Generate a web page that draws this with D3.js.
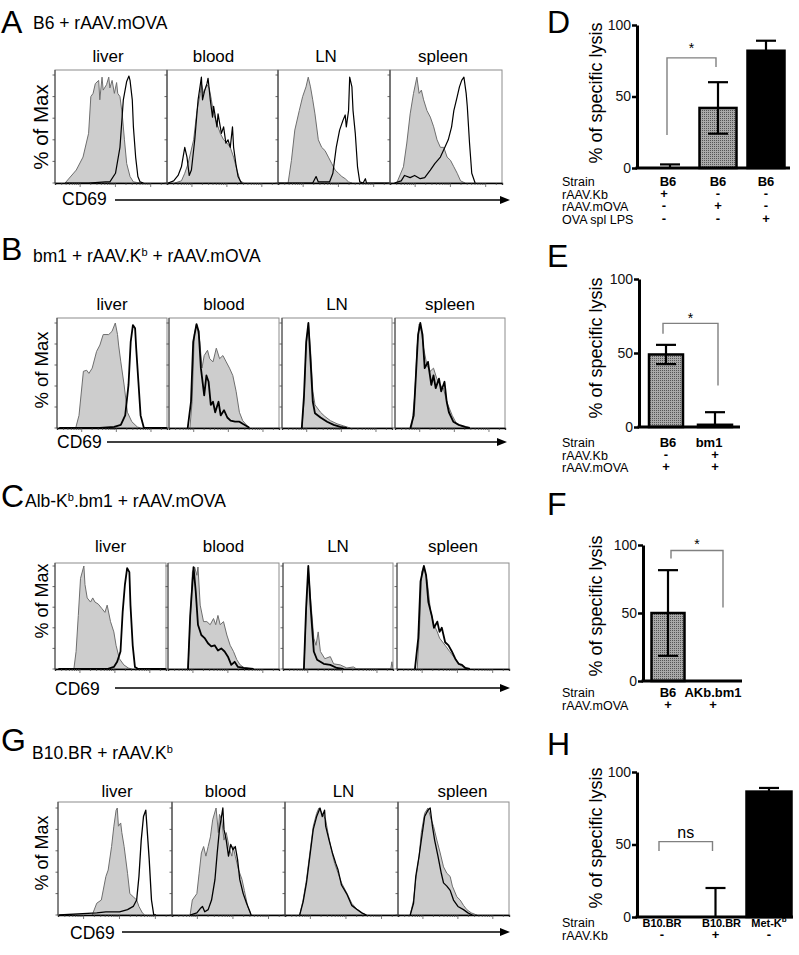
<!DOCTYPE html>
<html><head><meta charset="utf-8">
<script src="https://cdn.jsdelivr.net/npm/d3@7"></script>
<style>
body{margin:0;background:#fff;}
svg{display:block;font-family:"Liberation Sans",Arial,Helvetica,sans-serif;}
</style></head><body>
<svg id="fig" width="799" height="955"></svg>
<script>
// ---------------- DATA ----------------
const tissues = ["liver","blood","LN","spleen"];
// histogram series: [CD69 channel (0-100 across plot), % of Max]
const aGray = [
 [[9,0],[19,12],[25,24],[30,46],[32,80],[34,83],[36,92],[39,95],[40,77],[42,98],[43,86],[46,91],[48,98],[49,88],[51,95],[53,83],[55,93],[56,83],[58,80],[60,64],[62,40],[64,18],[67,6],[70,1],[76,0]],
 [[7,0],[13,2],[16,9],[19,18],[24,40],[27,67],[30,83],[31,92],[33,83],[36,91],[38,88],[40,77],[42,64],[45,55],[48,46],[51,40],[54,37],[57,33],[60,24],[63,12],[66,2],[69,0]],
 [[9,0],[12,21],[15,49],[19,67],[22,80],[25,89],[27,98],[29,89],[31,77],[33,64],[36,40],[39,33],[42,30],[45,24],[48,18],[51,12],[54,9],[57,6],[60,4],[63,1],[66,0]],
 [[6,0],[12,15],[15,37],[18,64],[21,83],[24,98],[26,83],[28,86],[30,77],[33,67],[36,61],[39,52],[42,40],[45,33],[48,33],[51,24],[54,21],[57,15],[60,9],[63,2],[67,0]]
];
const aBlack = [
 [[9,0],[30,0],[45,1],[49,1],[54,9],[58,33],[61,77],[64,94],[66,99],[67,95],[69,77],[70,52],[72,24],[74,6],[76,1],[79,0]],
 [[1,0],[6,2],[10,7],[13,15],[16,33],[18,24],[20,7],[22,12],[25,40],[28,77],[31,98],[32,77],[34,86],[36,92],[37,97],[39,77],[41,61],[42,71],[45,52],[46,64],[48,52],[49,46],[51,52],[53,37],[55,40],[57,33],[59,52],[60,33],[62,18],[64,6],[67,0]],
 [[0,0],[31,0],[34,6],[36,1],[46,1],[49,9],[52,33],[55,49],[58,58],[60,63],[61,52],[63,67],[64,98],[66,89],[67,67],[69,46],[71,15],[73,1],[76,0],[78,4],[79,0],[100,0]],
 [[4,0],[10,2],[13,7],[18,5],[22,7],[27,4],[31,5],[36,12],[40,18],[45,24],[49,33],[52,40],[55,52],[57,67],[60,80],[62,89],[64,95],[66,98],[68,83],[69,71],[71,37],[73,9],[76,0]]
];
const bGray = [
 [[17,0],[20,12],[24,54],[27,55],[29,52],[32,57],[36,73],[39,79],[42,89],[47,89],[50,92],[53,100],[55,89],[56,79],[58,63],[61,41],[64,15],[68,6],[73,1],[76,0]],
 [[19,0],[21,25],[23,89],[25,99],[28,82],[30,57],[32,69],[35,74],[37,66],[40,63],[43,76],[46,66],[49,69],[52,63],[55,57],[58,50],[61,35],[64,15],[67,7],[72,1],[73,0]],
 [[18,0],[20,25],[22,79],[24,100],[26,73],[28,35],[30,22],[35,15],[39,11],[44,7],[50,4],[56,2],[62,0]],
 [[15,0],[18,31],[20,76],[22,99],[24,92],[26,76],[29,60],[32,54],[35,57],[38,47],[41,41],[44,38],[47,25],[52,12],[56,4],[62,1],[65,0]]
];
const bBlack = [
 [[2,0],[39,0],[52,1],[58,3],[62,12],[65,41],[67,82],[69,98],[71,95],[72,76],[74,44],[76,12],[79,0],[100,0]],
 [[17,0],[20,25],[22,82],[25,99],[27,92],[29,57],[32,31],[34,50],[36,44],[38,22],[40,25],[42,15],[45,25],[47,12],[50,17],[53,10],[56,7],[60,6],[64,6],[67,4],[72,1],[73,0]],
 [[18,0],[20,31],[22,82],[24,100],[26,63],[28,25],[30,14],[35,10],[41,6],[47,3],[53,1],[59,0]],
 [[14,0],[17,12],[19,50],[21,89],[23,100],[25,89],[27,57],[30,63],[33,41],[35,50],[37,38],[40,47],[42,35],[45,44],[47,25],[49,15],[53,6],[58,3],[64,1],[68,0]]
];
const cGray = [
 [[17,0],[19,17],[21,52],[23,88],[26,100],[27,82],[29,69],[32,65],[34,69],[36,65],[39,63],[42,59],[45,55],[47,62],[50,46],[53,36],[55,23],[58,10],[62,4],[66,1],[69,0]],
 [[18,0],[20,46],[22,94],[24,99],[26,91],[27,99],[29,62],[32,46],[35,46],[38,43],[41,49],[43,43],[45,52],[47,43],[50,46],[53,33],[56,23],[59,17],[62,9],[65,4],[69,1],[77,0]],
 [[19,0],[21,52],[23,98],[25,69],[28,30],[30,23],[32,36],[34,17],[38,10],[43,12],[46,5],[52,4],[58,1],[64,2],[67,0],[98,0],[99,7],[100,0]],
 [[18,0],[20,36],[22,94],[24,100],[27,85],[30,56],[33,43],[36,36],[38,30],[43,23],[47,17],[52,10],[56,4],[61,1],[64,0]]
];
const cBlack = [
 [[3,0],[47,0],[53,2],[56,7],[59,17],[61,56],[63,82],[65,98],[67,94],[68,62],[70,23],[72,2],[75,0],[100,0]],
 [[18,0],[20,52],[23,99],[25,75],[27,43],[30,33],[33,30],[36,25],[39,22],[42,23],[45,18],[48,20],[51,17],[54,12],[57,4],[60,7],[63,2],[68,1],[77,0]],
 [[19,0],[21,59],[23,100],[25,62],[28,17],[31,9],[37,5],[43,4],[49,1],[55,0]],
 [[16,0],[19,30],[21,85],[24,100],[26,91],[28,65],[31,52],[33,40],[36,46],[38,36],[40,40],[43,26],[46,23],[49,17],[52,10],[55,5],[58,4],[61,1],[65,0]]
];
const gGray = [
 [[30,0],[34,11],[38,14],[42,36],[44,42],[47,64],[49,83],[51,98],[52,100],[53,83],[55,86],[56,77],[58,64],[61,39],[63,20],[66,17],[69,14],[71,8],[74,2],[76,0]],
 [[16,0],[18,14],[22,20],[24,39],[26,58],[28,64],[30,55],[32,64],[34,73],[36,89],[39,100],[41,77],[42,94],[44,89],[46,70],[48,77],[51,61],[53,55],[54,64],[56,55],[59,42],[62,33],[64,23],[67,8],[70,0]],
 [[13,0],[16,14],[19,33],[22,58],[25,83],[28,95],[30,100],[33,95],[36,89],[38,77],[41,61],[44,48],[47,39],[50,30],[55,20],[59,11],[64,5],[68,2],[72,0]],
 [[11,0],[14,14],[16,33],[19,55],[21,77],[24,95],[27,100],[30,89],[32,83],[35,70],[38,58],[41,45],[44,39],[47,36],[49,27],[53,17],[56,14],[59,9],[62,5],[66,2],[71,0]]
];
const gBlack = [
 [[1,0],[34,2],[42,3],[54,3],[61,5],[66,8],[69,14],[71,36],[73,70],[75,92],[77,98],[78,83],[80,52],[82,14],[84,0],[86,0]],
 [[16,0],[22,2],[25,6],[27,8],[29,3],[32,5],[35,14],[38,33],[40,58],[42,80],[45,100],[46,80],[48,70],[50,55],[52,66],[54,61],[56,64],[58,52],[60,33],[63,20],[66,11],[69,3],[70,0]],
 [[13,0],[16,12],[19,30],[22,55],[25,80],[28,92],[31,100],[33,92],[35,98],[36,83],[39,70],[42,58],[45,48],[47,42],[50,28],[55,19],[59,9],[64,5],[68,2],[72,0]],
 [[11,0],[14,11],[16,36],[19,55],[21,70],[24,92],[27,98],[29,100],[31,83],[33,70],[36,55],[39,39],[41,30],[44,27],[47,23],[50,14],[54,8],[59,5],[63,2],[67,0]]
];
// bar charts: % of specific lysis (mean, error)
const dStrain = ["B6","B6","B6"], dMean = [0,42,82], dErr = [2.5,18,7];
const dRows = [["rAAV.Kb",["+","-","-"]],["rAAV.mOVA",["-","+","-"]],["OVA spl LPS",["-","-","+"]]];
const eStrain = ["B6","bm1"], eMean = [49,1.5], eErr = [6.5,8.5];
const eRows = [["rAAV.Kb",["-","+"]],["rAAV.mOVA",["+","+"]]];
const fStrain = ["B6","AKb.bm1"], fMean = [50,0], fErr = [31.5,0];
const fRows = [["rAAV.mOVA",["+","+"]]];
const hStrain = ["B10.BR","B10.BR","Met-K|b"], hMean = [0,0,86.5], hErr = [0,20,2.5];
const hRows = [["rAAV.Kb",["-","+","-"]]];
const yTicks = [0,50,100];

// ---------------- DRAW ----------------
const svg = d3.select("#fig");
const defs = svg.append("defs");
const pat = defs.append("pattern").attr("id","stip").attr("width",2).attr("height",2).attr("patternUnits","userSpaceOnUse");
pat.append("rect").attr("width",2).attr("height",2).attr("fill","#a9a9a9");
pat.append("rect").attr("width",1).attr("height",1).attr("fill","#555");

const rows = [
 {letter:"A", letterY:33, sub:[["B6 + rAAV.mOVA",false]], subX:33, subY:29, top:70, bottom:183, peak:75,
  boxes:[[55,167],[167,278],[278,390],[390,502]], tY:62, tOff:[-3,-9,-8,-3], maxY:127, maxSize:20.5, cdX:62, cdY:205, arY:200, ar0:115, ar1:510, lw:1.2, gray:aGray, black:aBlack},
 {letter:"B", letterY:260, sub:[["bm1 + rAAV.K",false],["b",true],[" + rAAV.mOVA",false]], subX:33, subY:262, top:318, bottom:428, peak:323,
  boxes:[[57,167],[169,279],[282,392],[395,505]], tY:310, tOff:[0,0,0,0], maxY:370, maxSize:18.5, cdX:57, cdY:448, arY:442, ar0:107, ar1:507, lw:1.8, gray:bGray, black:bBlack},
 {letter:"C", letterY:507, sub:[["Alb-K",false],["b",true],[".bm1 + rAAV.mOVA",false]], subX:25, subY:507, top:563, bottom:669, peak:566,
  boxes:[[55,166],[168,279],[283,393],[397,509]], tY:552, tOff:[0,0,0,0], maxY:601, maxSize:18, cdX:55, cdY:695, arY:688, ar0:115, ar1:510, lw:1.8, gray:cGray, black:cBlack},
 {letter:"G", letterY:751, sub:[["B10.BR + rAAV.K",false],["b",true]], subX:32, subY:759, top:802, bottom:915, peak:808,
  boxes:[[58,172],[172,285],[285,398],[398,509]], tY:797, tOff:[2,-3,2,9], maxY:853, maxSize:18, cdX:70, cdY:939, arY:932, ar0:122, ar1:510, lw:1.3, gray:gGray, black:gBlack}
];

rows.forEach(r=>{
  const g = svg.append("g");
  g.append("text").attr("x",1).attr("y",r.letterY).attr("font-size",32).text(r.letter);
  const st = g.append("text").attr("x",r.subX).attr("y",r.subY).attr("font-size",17.5);
  let prevSup=false;
  r.sub.forEach(p=>{
    const t = st.append("tspan").text(p[0]);
    if(p[1]){ t.attr("font-size",11).attr("dy",-6); prevSup=true; }
    else { if(prevSup) t.attr("dy",6); prevSup=false; }
  });
  g.append("text").attr("transform",`translate(48,${r.maxY}) rotate(-90)`).attr("text-anchor","middle")
    .attr("font-size",r.maxSize).text("% of Max");
  r.boxes.forEach((b,i)=>{
    const x = d3.scaleLinear().domain([0,100]).range([b[0],b[1]]);
    const y = d3.scaleLinear().domain([0,100]).range([r.bottom,r.peak]);
    g.append("text").attr("x",(b[0]+b[1])/2+r.tOff[i]).attr("y",r.tY).attr("text-anchor","middle").attr("font-size",17).text(tissues[i]);
    g.append("rect").attr("x",b[0]).attr("y",r.top).attr("width",b[1]-b[0]).attr("height",r.bottom-r.top)
      .attr("fill","none").attr("stroke","#8c8c8c").attr("stroke-width",1);
    const cp = "clip"+r.letter+i;
    defs.append("clipPath").attr("id",cp).append("rect").attr("x",b[0]).attr("y",r.top).attr("width",b[1]-b[0]).attr("height",r.bottom-r.top);
    const pg = g.append("g").attr("clip-path",`url(#${cp})`);
    pg.append("path").datum(r.gray[i])
      .attr("d",d3.area().x(d=>x(d[0])).y0(y(0)).y1(d=>y(d[1])))
      .attr("fill","#cdcdcd").attr("stroke","#6e6e6e").attr("stroke-width",1).attr("stroke-linejoin","round");
    pg.append("path").datum(r.black[i])
      .attr("d",d3.line().x(d=>x(d[0])).y(d=>y(d[1])))
      .attr("fill","none").attr("stroke","#000").attr("stroke-width",r.lw).attr("stroke-linejoin","round");
    g.append("line").attr("x1",b[0]).attr("x2",b[0]).attr("y1",r.top).attr("y2",r.bottom).attr("stroke","#444").attr("stroke-width",1);
    d3.range(0,101,20).forEach(v=>{
      g.append("line").attr("x1",b[0]-2.5).attr("x2",b[0]).attr("y1",y(v)).attr("y2",y(v)).attr("stroke","#444").attr("stroke-width",0.8);
    });
    const lx = d3.scaleLog().domain([20,30000]).range([b[0],b[1]]);
    const bx = g.append("g").attr("transform",`translate(0,${r.bottom})`);
    bx.call(d3.axisBottom(lx).tickValues(lx.ticks()).tickSize(2).tickFormat(""));
    bx.select(".domain").attr("stroke","#000").attr("stroke-width",1.3);
    bx.selectAll(".tick line").attr("stroke","#444").attr("stroke-width",0.7)
      .attr("y2",d=>Math.abs(Math.log10(d)-Math.round(Math.log10(d)))<1e-6?4:2);
  });
  g.append("text").attr("x",r.cdX).attr("y",r.cdY).attr("font-size",17.5).text("CD69");
  g.append("line").attr("x1",r.ar0).attr("x2",r.ar1-8).attr("y1",r.arY).attr("y2",r.arY).attr("stroke","#000").attr("stroke-width",1.4);
  g.append("path").attr("d",`M${r.ar1},${r.arY} L${r.ar1-10},${r.arY-4} L${r.ar1-10},${r.arY+4} Z`).attr("fill","#000");
});

// ---------------- BAR CHARTS ----------------
const bars = [
 {letter:"D", letterY:33, y0:168, y100:25, ax0:637, ax1:790, xr:[670,766], bw:37, strain:dStrain, mean:dMean, err:dErr,
  fills:["stip","stip","#000"], rows:dRows, rowY:[186,198.5,211,223.5], labY:93, br:[0,1,23,70.6,77], brOff:[-3,-2], mark:"*", markV:86,
  sSize:13, lOff:[-2,0,0], sgOff:[-6,0,0]},
 {letter:"E", letterY:267, y0:427, y100:279, ax0:639, ax1:740, xr:[666,715], bw:34, strain:eStrain, mean:eMean, err:eErr,
  fills:["stip","#000"], rows:eRows, rowY:[447,459.5,472], labY:348, br:[0,1,63,28,70], brOff:[-3,3], mark:"*", markV:75.5,
  sSize:13, lOff:[2,-6], sgOff:[0,0]},
 {letter:"F", letterY:515, y0:681, y100:545, ax0:643, ax1:742, xr:[668,713], bw:33, strain:fStrain, mean:fMean, err:fErr,
  fills:["stip","stip"], rows:fRows, rowY:[697,709.5], labY:606, br:[0,1,90,54,96], brOff:[3,10], mark:"*", markV:103,
  sSize:13, lOff:[0,0], sgOff:[0,0]},
 {letter:"H", letterY:755, y0:917, y100:772, ax0:637, ax1:793, xr:[662,769], bw:45, strain:hStrain, mean:hMean, err:hErr,
  fills:["#000","#000","#000"], rows:hRows, rowY:[927,940], labY:838, br:[0,1,45.5,45.5,52], brOff:[-3,-3], mark:"ns", markV:54.5,
  sSize:11, lOff:[0,6,0], sgOff:[0,0,0]}
];

bars.forEach(c=>{
  const g = svg.append("g");
  g.append("text").attr("x",547).attr("y",c.letterY).attr("font-size",32).text(c.letter);
  const y = d3.scaleLinear().domain([0,100]).range([c.y0,c.y100]);
  const x = d3.scalePoint().domain(d3.range(c.mean.length)).range(c.xr);
  c.mean.forEach((m,i)=>{
    if(m>0) g.append("rect").attr("x",x(i)-c.bw/2).attr("y",y(m)).attr("width",c.bw).attr("height",y(0)-y(m))
      .attr("fill",c.fills[i]==="stip"?"url(#stip)":c.fills[i]).attr("stroke","#000").attr("stroke-width",2.5);
  });
  c.mean.forEach((m,i)=>{
    const e = c.err[i]; if(!e) return;
    const hi = m+e, lo = Math.max(0,m-e);
    const cw = 10;
    g.append("line").attr("x1",x(i)).attr("x2",x(i)).attr("y1",y(lo)).attr("y2",y(hi)).attr("stroke","#000").attr("stroke-width",2.2);
    g.append("line").attr("x1",x(i)-cw).attr("x2",x(i)+cw).attr("y1",y(hi)).attr("y2",y(hi)).attr("stroke","#000").attr("stroke-width",2.2);
    if(m-e>0) g.append("line").attr("x1",x(i)-cw).attr("x2",x(i)+cw).attr("y1",y(lo)).attr("y2",y(lo)).attr("stroke","#000").attr("stroke-width",2.2);
  });
  const ay = g.append("g").attr("transform",`translate(${c.ax0},0)`)
    .call(d3.axisLeft(y).tickValues(yTicks).tickSize(5).tickSizeOuter(0).tickPadding(1));
  ay.select(".domain").attr("stroke-width",3);
  ay.selectAll(".tick line").attr("stroke-width",2.5);
  ay.selectAll(".tick text").attr("font-size",14).attr("font-family","Liberation Sans, Arial, sans-serif").attr("fill","#111");
  g.append("line").attr("x1",c.ax0-1.5).attr("x2",c.ax1).attr("y1",y(0)).attr("y2",y(0)).attr("stroke","#000").attr("stroke-width",3);
  g.append("text").attr("transform",`translate(602,${c.labY}) rotate(-90)`).attr("text-anchor","middle")
    .attr("font-size",18).text("% of specific lysis");
  const xa = x(c.br[0])+c.brOff[0], xb = x(c.br[1])+c.brOff[1];
  g.append("path").attr("d",`M${xa},${y(c.br[2])} V${y(c.br[4])} H${xb} V${y(c.br[3])}`)
    .attr("fill","none").attr("stroke","#808080").attr("stroke-width",1.4);
  if(c.mark==="*") g.append("text").attr("x",(xa+xb)/2).attr("y",y(c.markV)+8).attr("text-anchor","middle").attr("font-size",14).text("*");
  else g.append("text").attr("x",(xa+xb)/2).attr("y",y(c.markV)).attr("text-anchor","middle").attr("font-size",16).text(c.mark);
  g.append("text").attr("x",562).attr("y",c.rowY[0]).attr("font-size",12.5).text("Strain");
  c.strain.forEach((s,i)=>{
    const t = g.append("text").attr("x",x(i)+c.lOff[i]).attr("y",c.rowY[0]).attr("text-anchor","middle").attr("font-size",c.sSize).attr("font-weight","bold");
    const parts = s.split("|");
    t.append("tspan").text(parts[0]);
    if(parts[1]) t.append("tspan").attr("font-size",8).attr("dy",-5).text(parts[1]);
  });
  c.rows.forEach((rw,k)=>{
    g.append("text").attr("x",562).attr("y",c.rowY[k+1]).attr("font-size",12.5).text(rw[0]);
    rw[1].forEach((s,i)=>{
      g.append("text").attr("x",x(i)+c.sgOff[i]).attr("y",c.rowY[k+1]-1).attr("text-anchor","middle").attr("font-size",13).attr("font-weight","bold").text(s);
    });
  });
});
</script>
</body></html>
